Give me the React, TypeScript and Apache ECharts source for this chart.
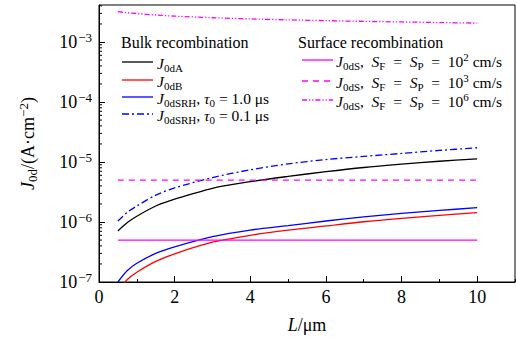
import React, { useEffect, useRef } from 'react';
import * as echarts from 'echarts';

// ---- data ----
const L = [0.5, 0.75, 1, 1.5, 2, 3, 4, 5, 6, 7, 8, 9, 10];
const J0dA = [7.1e-7, 9.8e-7, 1.25e-6, 1.85e-6, 2.4e-6, 3.65e-6, 4.7e-6, 5.75e-6, 6.9e-6, 8.1e-6, 9.2e-6, 1.03e-5, 1.13e-5];
const J0dB = [7.0e-8, 1.1e-7, 1.45e-7, 2.2e-7, 2.95e-7, 4.6e-7, 6.0e-7, 7.3e-7, 8.6e-7, 1.01e-6, 1.15e-6, 1.29e-6, 1.43e-6];
const J0dSRH_10 = [1.0e-7, 1.55e-7, 2.05e-7, 3.0e-7, 3.85e-7, 5.7e-7, 7.35e-7, 8.7e-7, 1.04e-6, 1.22e-6, 1.39e-6, 1.56e-6, 1.73e-6];
const J0dSRH_01 = [1.04e-6, 1.45e-6, 1.85e-6, 2.8e-6, 3.7e-6, 5.5e-6, 7.4e-6, 9.3e-6, 1.1e-5, 1.24e-5, 1.39e-5, 1.56e-5, 1.73e-5];
const L_S = [0.5, 10];
const J0dS_1e2 = [5e-7, 5e-7];
const J0dS_1e3 = [5e-6, 5e-6];
const J0dS_1e6 = [3.2e-3, 3.08e-3, 2.98e-3, 2.82e-3, 2.7e-3, 2.54e-3, 2.43e-3, 2.34e-3, 2.27e-3, 2.21e-3, 2.16e-3, 2.11e-3, 2.07e-3];

const xTickLabels = ['0', '2', '4', '6', '8', '10'];
const yExponents = [-7, -6, -5, -4, -3];
const Y_MIN = 1e-7;
const Y_MAX = Math.pow(10, -2.383);
const X_MIN = 0;
const X_MAX = 11;

const FONT = "'Liberation Serif', 'DejaVu Serif', serif";

const legendRich = {
  r: { fontSize: 15.5, fontFamily: FONT, lineHeight: 20, color: '#000' },
  i: { fontSize: 15.5, fontFamily: FONT, fontStyle: 'italic', lineHeight: 20, color: '#000' },
  sub: { fontSize: 11, fontFamily: FONT, lineHeight: 10, verticalAlign: 'bottom', color: '#000' },
  sup: { fontSize: 11, fontFamily: FONT, lineHeight: 10, verticalAlign: 'top', color: '#000' },
};

const bulkTitle = 'Bulk recombination';
const surfTitle = 'Surface recombination';
const bulkNames = [
  '{i|J}{sub|0dA}',
  '{i|J}{sub|0dB}',
  '{i|J}{sub|0dSRH}{r|, }{i|τ}{sub|0}{r| = 1.0 μs}',
  '{i|J}{sub|0dSRH}{r|, }{i|τ}{sub|0}{r| = 0.1 μs}',
];
const surfNames = [
  '{i|J}{sub|0dS}{r|,  }{i|S}{sub|F}{r|  =  }{i|S}{sub|P}{r|  =  10}{sup|2}{r| cm/s}',
  '{i|J}{sub|0dS}{r|,  }{i|S}{sub|F}{r|  =  }{i|S}{sub|P}{r|  =  10}{sup|3}{r| cm/s}',
  '{i|J}{sub|0dS}{r|,  }{i|S}{sub|F}{r|  =  }{i|S}{sub|P}{r|  =  10}{sup|6}{r| cm/s}',
];

const BLACK = '#000000';
const RED = '#ff0000';
const BLUE = '#0000ff';
const MAGENTA = '#ff00ff';
const DASHDOT = [7, 3, 2, 3];
const DASHED = [6, 5];
const DASHDOTDOT = [5, 2, 1.2, 2, 1.2, 2];

export default function App() {
  const ref = useRef<HTMLDivElement>(null);
  useEffect(() => {
    if (!ref.current) return;
    const chart = echarts.init(ref.current, null, { renderer: 'svg' });

    const zip = (xs: number[], ys: number[]) => xs.map((x, k) => [x, ys[k]]);

    const minorVals: number[][] = [];
    for (let n = -7; n <= -3; n++) {
      for (let m = 2; m <= 9; m++) {
        const v = m * Math.pow(10, n);
        if (v < Y_MAX) minorVals.push([0, v]);
      }
    }

    const lineSeries = (name: string, xs: number[], ys: number[], color: string, dash: any) => ({
      name,
      type: 'line',
      data: zip(xs, ys),
      showSymbol: false,
      smooth: 0.3,
      clip: true,
      lineStyle: { color, width: 1.3, type: dash },
      z: 2,
    });

    const graphics: any[] = [];
    graphics.push({
      type: 'text', x: 121, y: 42,
      style: { text: bulkTitle, fontSize: 16, fontFamily: FONT, fill: '#000', verticalAlign: 'middle' },
    });
    graphics.push({
      type: 'text', x: 298, y: 42,
      style: { text: surfTitle, fontSize: 16, fontFamily: FONT, fill: '#000', verticalAlign: 'middle' },
    });
    const bulkStyles = [
      [BLACK, null], [RED, null], [BLUE, null], [BLUE, DASHDOT],
    ];
    const bulkY = [62, 80, 97, 114];
    bulkNames.forEach((t, k) => {
      graphics.push({
        type: 'line', shape: { x1: 122, y1: bulkY[k], x2: 153, y2: bulkY[k] },
        style: { stroke: bulkStyles[k][0], lineWidth: 1.3, lineDash: bulkStyles[k][1] || undefined },
      });
      graphics.push({
        type: 'text', x: 157, y: bulkY[k] + 1,
        style: { text: t, rich: legendRich, fontSize: 15.5, fontFamily: FONT, verticalAlign: 'middle' },
      });
    });
    const surfDash = [null, DASHED, DASHDOTDOT];
    const surfY = [60, 81, 100];
    surfNames.forEach((t, k) => {
      graphics.push({
        type: 'line', shape: { x1: 302, y1: surfY[k], x2: 333, y2: surfY[k] },
        style: { stroke: MAGENTA, lineWidth: 1.3, lineDash: surfDash[k] || undefined },
      });
      graphics.push({
        type: 'text', x: 336, y: surfY[k] + 1,
        style: { text: t, rich: legendRich, fontSize: 15.5, fontFamily: FONT, verticalAlign: 'middle' },
      });
    });

    const option: any = {
      animation: false,
      textStyle: { fontFamily: FONT, color: '#000' },
      grid: {
        left: 99, right: 1, top: 5, bottom: 57,
        show: true, borderColor: '#000', borderWidth: 1, backgroundColor: 'transparent',
      },
      xAxis: [
        {
          type: 'value', min: X_MIN, max: X_MAX, interval: 2, position: 'bottom',
          axisLine: { show: true, lineStyle: { color: '#000', width: 1 } },
          axisTick: { show: true, inside: true, length: 6, lineStyle: { color: '#000' } },
          splitLine: { show: false },
          axisLabel: {
            color: '#000', fontSize: 18, fontFamily: FONT, margin: 6,
            showMaxLabel: false,
            formatter: (v: number) => {
              const s = String(Math.round(v));
              return xTickLabels.indexOf(s) >= 0 && Math.abs(v - Math.round(v)) < 1e-9 ? s : '';
            },
          },
          name: '{i|L}{r|/μm}',
          nameLocation: 'middle',
          nameGap: 34,
          nameTextStyle: {
            fontFamily: FONT,
            rich: {
              i: { fontSize: 18, fontFamily: FONT, fontStyle: 'italic', color: '#000' },
              r: { fontSize: 18, fontFamily: FONT, color: '#000' },
            },
          },
        },
        {
          type: 'value', min: X_MIN, max: X_MAX, interval: 1, position: 'bottom',
          axisLine: { show: false },
          axisTick: { show: true, inside: true, length: 3, lineStyle: { color: '#000' } },
          axisLabel: { show: false },
          splitLine: { show: false },
        },
      ],
      yAxis: {
        type: 'log', logBase: 10, min: Y_MIN, max: Y_MAX, splitNumber: 5,
        axisLine: { show: true, lineStyle: { color: '#000', width: 1 } },
        axisTick: { show: true, inside: true, length: 6, lineStyle: { color: '#000' } },
        splitLine: { show: false },
        minorTick: { show: false },
        axisLabel: {
          margin: 7,
          fontFamily: FONT,
          showMaxLabel: false,
          formatter: (v: number) => {
            const e = Math.log10(v);
            const r = Math.round(e);
            if (Math.abs(e - r) > 1e-6 || yExponents.indexOf(r) < 0) return '';
            return `{b|10}{s|−${Math.abs(r)}}`;
          },
          rich: {
            b: { fontSize: 18, fontFamily: FONT, lineHeight: 22, color: '#000' },
            s: { fontSize: 13, fontFamily: FONT, lineHeight: 12, verticalAlign: 'top', color: '#000', padding: [0, 0, 0, 1] },
          },
        },
        name: '{i|J}{sub|0d}{r|/(A·cm}{sup|−2}{r|)}',
        nameLocation: 'middle',
        nameRotate: 90,
        nameGap: 60,
        nameTextStyle: {
          fontFamily: FONT,
          rich: {
            i: { fontSize: 18, fontFamily: FONT, fontStyle: 'italic', lineHeight: 22, color: '#000' },
            r: { fontSize: 18, fontFamily: FONT, lineHeight: 22, color: '#000' },
            sub: { fontSize: 13, fontFamily: FONT, lineHeight: 12, verticalAlign: 'bottom', color: '#000' },
            sup: { fontSize: 13, fontFamily: FONT, lineHeight: 12, verticalAlign: 'top', color: '#000' },
          },
        },
      },
      series: [
        lineSeries('J0dA', L, J0dA, BLACK, 'solid'),
        lineSeries('J0dB', L, J0dB, RED, 'solid'),
        lineSeries('J0dSRH, τ0 = 1.0 μs', L, J0dSRH_10, BLUE, 'solid'),
        lineSeries('J0dSRH, τ0 = 0.1 μs', L, J0dSRH_01, BLUE, DASHDOT),
        lineSeries('J0dS, 10^2', L_S, J0dS_1e2, MAGENTA, 'solid'),
        lineSeries('J0dS, 10^3', L_S, J0dS_1e3, MAGENTA, DASHED),
        lineSeries('J0dS, 10^6', L, J0dS_1e6, MAGENTA, DASHDOTDOT),
        {
          type: 'custom',
          name: 'yMinorTicks',
          silent: true,
          data: minorVals,
          renderItem: (params: any, api: any) => {
            const p = api.coord([0, api.value(1)]);
            return {
              type: 'line',
              shape: { x1: p[0], y1: p[1], x2: p[0] + 3, y2: p[1] },
              style: { stroke: '#000', lineWidth: 1 },
            };
          },
          z: 3,
        },
      ],
      graphic: graphics,
    };
    chart.setOption(option);
    return () => chart.dispose();
  }, []);
  return <div ref={ref} style={{ width: 516, height: 339, position: 'absolute', left: 0, top: 0 }} />;
}
